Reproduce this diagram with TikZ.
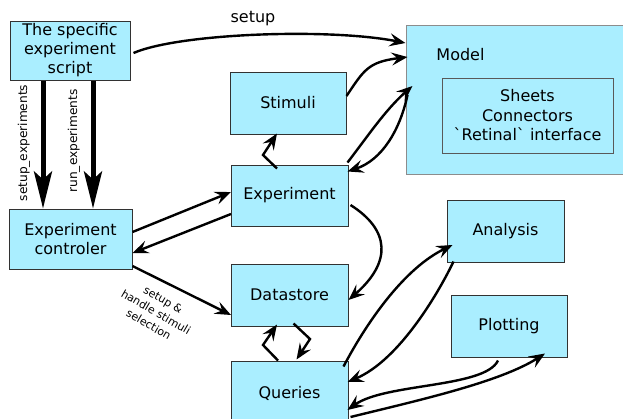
\documentclass[tikz,border=0pt]{standalone}
\usepackage{fontspec}
\setmainfont{DejaVu Sans}
\newfontfamily\plaindv{DejaVu Sans}
\usetikzlibrary{arrows.meta}
\definecolor{boxfill}{RGB}{170,238,255}
\definecolor{boxline}{RGB}{50,50,50}
\begin{document}
\begin{tikzpicture}[x=1pt,y=-1pt,
  box/.style={draw=boxline, fill=boxfill, line width=1pt, inner sep=0pt, align=center,
    font=\fontsize{16}{19}\selectfont},
  conn/.style={line width=2.4pt, -{Stealth[length=16pt,width=13pt,inset=6pt]}},
  bigarrow/.style={line width=5pt, -{Stealth[length=37pt,width=18pt,inset=8pt]}},
  lbl/.style={font=\fontsize{16}{19}\selectfont, inner sep=0pt},
  smalllbl/.style={font=\fontsize{12.2}{14}\selectfont, inner sep=0pt},
  tinylbl/.style={font=\fontsize{11}{14.5}\selectfont, inner sep=0pt, align=center}]
\useasboundingbox (0,0) rectangle (623,418);
\clip (0,0) rectangle (623,418);

% boxes
\node[box, minimum width=120pt, minimum height=59pt] (script) at (70,50.5) {The specific\\experiment\\script};
\node[box, minimum width=116pt, minimum height=62pt] (stimuli) at (288,103) {Stimuli};
\node[box, draw=black!45, minimum width=217pt, minimum height=149pt] (model) at (514.5,99.5) {};
\node[lbl] (modellabel) at (460.5,55) {Model};
\node[box, draw=black!65, line width=0.8pt, minimum width=171pt, minimum height=75pt, font=\plaindv\fontsize{16}{19.5}\selectfont] (inner) at (527.5,115.5) {Sheets\\Connectors\\`Retinal` interface};
\node[box, minimum width=117pt, minimum height=61pt] (experiment) at (289.5,195.5) {Experiment};
\node[box, minimum width=123pt, minimum height=60pt] (controller) at (70.5,239) {Experiment\\controler};
\node[box, minimum width=117pt, minimum height=62pt] (datastore) at (289.5,295) {Datastore};
\node[box, minimum width=117pt, minimum height=64pt] (queries) at (289.5,393) {Queries};
\node[box, minimum width=117pt, minimum height=62pt] (analysis) at (505.5,231) {Analysis};
\node[box, minimum width=116pt, minimum height=62pt] (plotting) at (509,326) {Plotting};

% thick arrows
\draw[bigarrow] ([xshift=-27pt]script.south) -- ([xshift=-27.5pt]controller.north);
\draw[bigarrow] ([xshift=23pt]script.south) -- ([xshift=22.5pt]controller.north);
\node[smalllbl, rotate=90] (setupexp) at (24,143) {setup\_experiments};
\node[smalllbl, rotate=90] (runexp) at (74,141) {run\_experiments};

% script -> model
\draw[conn] ([shift={(3,2.5)}]script.east) .. controls (180,33) and (330,28) .. ([shift={(0,-56.5)}]model.west);
\node[lbl] (setuplbl) at (253,19) {setup};

% stimuli -> model
\draw[conn] ([shift={(0,-7)}]stimuli.east) .. controls (364,70) and (368,62) .. ([shift={(2,-42.5)}]model.west);

% experiment <-> model
\draw[conn] ([shift={(-1,-2)}]experiment.north east) .. controls (365,140) and (385,110) .. ([shift={(7,-13.5)}]model.west);
\draw[conn] ([shift={(2,-4.5)}]model.west) .. controls (400,130) and (382,160) .. ([shift={(-1,7)}]experiment.north east);

% experiment -> stimuli
\draw[conn] ([shift={(-12.5,4)}]experiment.north) -- (263,155) -- ([shift={(-11,-1)}]stimuli.south);

% controller <-> experiment
\draw[conn] ([shift={(0,-7)}]controller.east) -- ([shift={(0.5,-3.5)}]experiment.west);
\draw[conn] ([shift={(0.5,18.5)}]experiment.west) -- ([shift={(0,14)}]controller.east);

% controller -> datastore
\draw[conn] ([shift={(0,27)}]controller.east) -- ([shift={(0.5,20)}]datastore.west);
\node[tinylbl, rotate=-30] (dslbl) at (156,312) {setup \&\\handle stimuli\\selection};

% experiment -> datastore
\draw[conn] ([shift={(2,9.5)}]experiment.east) .. controls (390,230) and (392,262) .. ([shift={(0,5)}]datastore.east);

% queries <-> datastore
\draw[conn] ([shift={(-11.5,0)}]queries.north) -- (263,345) -- ([shift={(-12.5,-2)}]datastore.south);
\draw[conn] ([shift={(4,-3)}]datastore.south) -- (310,339) -- ([shift={(7,-1)}]queries.north);

% queries <-> analysis
\draw[conn] ([shift={(-5,6)}]queries.north east) .. controls (368,320) and (405,268) .. ([shift={(6,14)}]analysis.west);
\draw[conn] ([shift={(7,-1)}]analysis.south west) .. controls (440,290) and (400,360) .. ([shift={(-1,-11)}]queries.east);

% queries <-> plotting
\draw[conn] ([shift={(-11,3)}]plotting.south) .. controls (485,388) and (385,383) .. ([shift={(-1,17)}]queries.east);
\draw[conn] ([shift={(2,24)}]queries.east) .. controls (420,400) and (500,382) .. ([shift={(36,-4)}]plotting.south);
\end{tikzpicture}
\end{document}
